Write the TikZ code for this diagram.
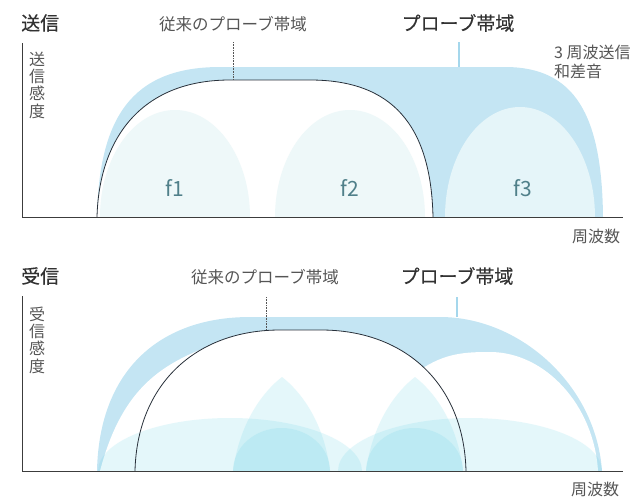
\documentclass[tikz,border=0pt]{standalone}
\usepackage{fontspec}
\setmainfont{Noto Sans CJK JP}
\newfontfamily\jpheavy[FakeBold=0.22]{Noto Sans CJK JP}
\definecolor{band}{RGB}{196,229,243}
\definecolor{lobeA}{RGB}{238,248,249}
\definecolor{lobeB}{RGB}{229,245,249}
\definecolor{axiscol}{RGB}{60,60,60}
\definecolor{darktxt}{RGB}{50,50,50}
\definecolor{graytxt}{RGB}{85,85,85}
\definecolor{flab}{RGB}{80,128,138}
\definecolor{rxcol}{RGB}{100,210,230}
\definecolor{tickcol}{RGB}{165,215,236}
\definecolor{convcol}{RGB}{40,48,58}
\tikzset{
  axisline/.style={draw=axiscol, line width=0.9pt},
  convline/.style={draw=convcol, line width=0.8pt},
  convtick/.style={draw=graytxt, line width=0.6pt, densely dotted},
  probetick/.style={draw=tickcol, line width=1.4pt},
  titletxt/.style={text=darktxt, font=\jpheavy\fontsize{19}{19}\selectfont, inner sep=0pt},
  bandtxt/.style={text=graytxt, font=\fontsize{16.5}{17}\selectfont, inner sep=0pt},
  probetxt/.style={text=darktxt, font=\jpheavy\fontsize{19}{19}\selectfont, inner sep=0pt},
  smalltxt/.style={text=graytxt, font=\fontsize{16}{19.5}\selectfont, inner sep=0pt},
  vtxt/.style={text=graytxt, font=\fontsize{16}{17.3}\selectfont, align=center, inner sep=0pt},
  ftxt/.style={text=flab, font=\fontsize{21}{21}\selectfont, inner sep=0pt}
}
\begin{document}
\begin{tikzpicture}[x=1pt,y=-1pt]
\useasboundingbox (0,0) rectangle (635,499);

% ================= TOP PANEL =================
\fill[band] (97,217) .. controls (99,120) and (130,67) .. (220,67) -- (505,67) .. controls (575,67) and (602,115) .. (603,217) -- cycle;
\fill[white] (97,217) .. controls (99,140) and (140,80) .. (230,80) -- (310,80) .. controls (392,80) and (431,125) .. (433,217) -- cycle;
\begin{scope}
  \clip (0,0) rectangle (635,217);
  \fill[lobeA] (175,217) ellipse [x radius=75, y radius=107];
  \fill[lobeA] (350,217) ellipse [x radius=75, y radius=107];
  \fill[lobeB] (520,217) ellipse [x radius=75, y radius=110];
\end{scope}
\draw[convline] (97,217) .. controls (99,140) and (140,80) .. (230,80) -- (310,80) .. controls (392,80) and (431,125) .. (433,217);

\coordinate (c1top) at (233,42);
\coordinate (c1bot) at (233,80);
\coordinate (p1top) at (459,42);
\coordinate (p1bot) at (459,67);
\draw[convtick] (c1top) -- (c1bot);
\draw[probetick] (p1top) -- (p1bot);

\coordinate (ax1top) at (22,43);
\coordinate (ax1org) at (22,217);
\coordinate (ax1end) at (623,217);
\draw[axisline] (ax1top) -- (ax1org) -- (ax1end);

\node[titletxt, anchor=west] (tx) at (21,23) {送信};
\node[bandtxt] (convlab1) at (233,24) {従来のプローブ帯域};
\node[probetxt] (problab1) at (458,23) {プローブ帯域};
\node[smalltxt, anchor=west] (three) at (554,52) {3 周波送信};
\node[smalltxt, anchor=west] (wasa) at (554,71) {和差音};
\node[vtxt] (ylab1) at (37,85) {送\\信\\感\\度};
\node[smalltxt] (xlab1) at (596,236) {周波数};
\node[ftxt] (f1) at (175,188) {f1};
\node[ftxt] (f2) at (350,188) {f2};
\node[ftxt] (f3) at (523,188) {f3};

% ================= BOTTOM PANEL =================
\fill[band] (97,471) .. controls (99,370) and (160,317) .. (250,317) -- (440,317) .. controls (520,317) and (596,385) .. (602,471) -- cycle;
\fill[white] (100,471) .. controls (120,395) and (155,368) .. (202,349) -- (202,471) -- cycle;
\fill[white] (135,471) .. controls (137,385) and (195,330) .. (280,330) -- (321,330) .. controls (406,330) and (464,385) .. (466,471) -- cycle;
\fill[white] (430,471) -- (420,370) .. controls (445,353) and (465,352) .. (490,352) .. controls (545,352) and (594,405) .. (598,471) -- cycle;

\begin{scope}
  \clip (0,0) rectangle (635,471);
  \begin{scope}[fill=rxcol, fill opacity=0.17]
    \fill (230,471) ellipse [x radius=132, y radius=53];
    \fill (470,471) ellipse [x radius=132, y radius=53];
    \fill (233,471) .. controls (240,420) and (265,390) .. (282,377) .. controls (299,390) and (324,420) .. (330,471) -- cycle;
    \fill (366,471) .. controls (373,420) and (398,390) .. (415,377) .. controls (432,390) and (457,420) .. (463,471) -- cycle;
    \fill (281.5,471) ellipse [x radius=48.5, y radius=43];
    \fill (414.5,471) ellipse [x radius=48.5, y radius=43];
  \end{scope}
\end{scope}

\draw[convline] (135,471) .. controls (137,385) and (195,330) .. (280,330) -- (321,330) .. controls (406,330) and (464,385) .. (466,471);

\coordinate (c2top) at (266,297);
\coordinate (c2bot) at (266,330);
\coordinate (p2top) at (457,297);
\coordinate (p2bot) at (457,317);
\draw[convtick] (c2top) -- (c2bot);
\draw[probetick] (p2top) -- (p2bot);

\coordinate (ax2top) at (22,296);
\coordinate (ax2org) at (22,471);
\coordinate (ax2end) at (623,471);
\draw[axisline] (ax2top) -- (ax2org) -- (ax2end);

\node[titletxt, anchor=west] (rx) at (21,276) {受信};
\node[bandtxt] (convlab2) at (265,277) {従来のプローブ帯域};
\node[probetxt] (problab2) at (457,276) {プローブ帯域};
\node[vtxt] (ylab2) at (37,340) {受\\信\\感\\度};
\node[smalltxt] (xlab2) at (595,489) {周波数};
\end{tikzpicture}
\end{document}
